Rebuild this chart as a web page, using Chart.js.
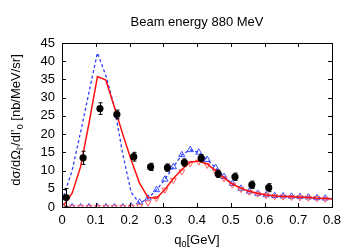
<!DOCTYPE html>
<html>
<head>
<meta charset="utf-8">
<script src="https://cdn.jsdelivr.net/npm/chart.js@4.4.0/dist/chart.umd.min.js"></script>
<style>
  html, body { margin: 0; padding: 0; background: #fff; }
</style>
</head>
<body>
<canvas id="chart" width="356" height="249"></canvas>
<script>
// q0 grid of the calculated curves [GeV]
const qGrid = [0.005, 0.03, 0.055, 0.08, 0.105, 0.13, 0.155, 0.18, 0.205, 0.23, 0.255, 0.28, 0.305, 0.33, 0.355, 0.38,
  0.405, 0.43, 0.455, 0.48, 0.505, 0.53, 0.555, 0.58, 0.605, 0.63, 0.655, 0.68, 0.705, 0.73, 0.755, 0.78];
const qLineEnd = 0.8;

// full calculations (lines)
const redLine = [0.5, 3.8, 11, 23, 35.8, 34.8, 27.5, 20, 12.9, 6.5, 2.6, 2.4, 4.8, 7.8, 10.3, 12.3,
  12.6, 11.8, 10, 8, 6.3, 5.1, 4.3, 3.7, 3.3, 3.0, 2.9, 2.8, 2.7, 2.6, 2.4, 2.3, 2.2];
const blueLine = [3, 10, 20.5, 31.5, 42.3, 36, 27.5, 14.5, 4, 1, 2.4, 4.7, 7.6, 11, 14.3, 15.7,
  15, 13, 10.8, 8.3, 6.4, 5.1, 4.3, 3.7, 3.3, 3.1, 3.0, 2.9, 2.8, 2.7, 2.5, 2.4, 2.3];

// Delta-region parts (open triangles)
const blueTri = [0, 0, 0, 0, 0, 0, 0, 0, 0.2, 1.3, 2.4, 4.7, 7.6, 11, 14.3, 15.7,
  15, 13, 10.8, 8.3, 6.4, 5.1, 4.3, 3.7, 3.3, 3.1, 3.0, 2.9, 2.8, 2.7, 2.5, 2.4];
const redTri = [0, 0, 0, 0, 0, 0, 0, 0, 0, 0.3, 1.2, 2.4, 4.7, 7.4, 9.7, 12,
  12.4, 11.5, 9.8, 7.8, 6.1, 4.9, 4.1, 3.6, 3.2, 2.9, 2.8, 2.7, 2.6, 2.5, 2.4, 2.2];

// measured points
const dataQ = [0.0125, 0.0625, 0.1125, 0.1625, 0.2125, 0.2625, 0.3125, 0.3625, 0.4125, 0.4625, 0.5125, 0.5625, 0.6125];
const dataY = [2.6, 13.5, 27.0, 25.4, 13.8, 11.0, 10.8, 12.2, 13.4, 9.1, 8.3, 6.1, 5.3];
const dataErr = [2.5, 1.8, 1.6, 1.2, 1.2, 1.0, 1.0, 1.0, 1.0, 1.0, 1.0, 1.0, 1.1];

const xMin = 0, xMax = 0.8, xStep = 0.1;
const yMin = 0, yMax = 45, yStep = 5;

const FONT = "'Liberation Sans', Arial, sans-serif";
Chart.defaults.font.family = FONT;
Chart.defaults.font.size = 13;
Chart.defaults.color = '#000';

const lineQ = qGrid.concat([qLineEnd]);
const pts = (xs, ys) => ys.map((y, i) => ({ x: xs[i], y: y }));

// text with subscripts, parts = [[text, isSub], ...]
function drawRich(ctx, parts, x, y) {
  const big = '13px ' + FONT, small = '9px ' + FONT;
  let w = 0;
  parts.forEach(p => { ctx.font = p[1] ? small : big; w += ctx.measureText(p[0]).width; });
  let cx = x - w / 2;
  ctx.textAlign = 'left';
  ctx.textBaseline = 'alphabetic';
  parts.forEach(p => {
    ctx.font = p[1] ? small : big;
    ctx.fillText(p[0], cx, p[1] ? y + 3 : y);
    cx += ctx.measureText(p[0]).width;
  });
}

const framePlugin = {
  id: 'frame',
  afterDatasetsDraw(chart) {
    const ctx = chart.ctx;
    const { left, right, top, bottom } = chart.chartArea;
    const xs = chart.scales.x, ys = chart.scales.y;
    ctx.save();
    // error bars
    ctx.strokeStyle = '#000';
    ctx.lineWidth = 1;
    dataQ.forEach((q, i) => {
      const px = Math.round(xs.getPixelForValue(q)) + 0.5;
      const y1 = ys.getPixelForValue(Math.max(dataY[i] - dataErr[i], 0));
      const y2 = ys.getPixelForValue(dataY[i] + dataErr[i]);
      ctx.beginPath();
      ctx.moveTo(px, y1); ctx.lineTo(px, y2);
      ctx.moveTo(px - 2, y1); ctx.lineTo(px + 2, y1);
      ctx.moveTo(px - 2, y2); ctx.lineTo(px + 2, y2);
      ctx.stroke();
    });
    // border + inward ticks on all sides
    ctx.strokeRect(Math.round(left) + 0.5, Math.round(top) + 0.5, Math.round(right - left), Math.round(bottom - top));
    ctx.beginPath();
    xs.ticks.forEach(t => {
      const px = Math.round(xs.getPixelForValue(t.value)) + 0.5;
      ctx.moveTo(px, bottom); ctx.lineTo(px, bottom - 4);
      ctx.moveTo(px, top); ctx.lineTo(px, top + 4);
    });
    ys.ticks.forEach(t => {
      const py = Math.round(ys.getPixelForValue(t.value)) + 0.5;
      ctx.moveTo(left, py); ctx.lineTo(left + 4, py);
      ctx.moveTo(right, py); ctx.lineTo(right - 4, py);
    });
    ctx.stroke();
    ctx.restore();
  },
  afterDraw(chart) {
    const ctx = chart.ctx;
    const { left, right, top, bottom } = chart.chartArea;
    ctx.save();
    ctx.fillStyle = '#000';
    ctx.font = '13px ' + FONT;
    ctx.textAlign = 'center';
    ctx.textBaseline = 'alphabetic';
    ctx.fillText('Beam energy 880 MeV', (left + right) / 2, 26);
    drawRich(ctx, [['q', false], ['0', true], ['[GeV]', false]], (left + right) / 2, 244);
    ctx.translate(20, (top + bottom) / 2 - 5);
    ctx.rotate(-Math.PI / 2);
    drawRich(ctx, [['d\u03c3/d\u03a9', false], ['l\u2019', true], ['/dl\u2019', false], ['0', true], [' [nb/MeV/sr]', false]], 0, 0);
    ctx.restore();
  }
};

new Chart(document.getElementById('chart'), {
  type: 'scatter',
  data: {
    datasets: [
      {
        label: 'data',
        data: pts(dataQ, dataY),
        pointStyle: 'circle',
        pointRadius: 3.6,
        backgroundColor: '#000',
        borderColor: '#000',
        borderWidth: 0,
        order: 0
      },
      {
        label: 'red triangles',
        data: pts(qGrid, redTri),
        pointStyle: 'triangle',
        rotation: 180,
        pointRadius: 3.4,
        backgroundColor: 'rgba(0,0,0,0)',
        borderColor: '#ff5a5a',
        borderWidth: 1,
        order: 3
      },
      {
        label: 'blue triangles',
        data: pts(qGrid, blueTri),
        pointStyle: 'triangle',
        pointRadius: 3.6,
        backgroundColor: 'rgba(0,0,0,0)',
        borderColor: '#3a4dff',
        borderWidth: 1,
        order: 4
      },
      {
        label: 'blue dashed',
        data: pts(lineQ, blueLine),
        showLine: true,
        pointRadius: 0,
        borderColor: '#2b3dff',
        borderWidth: 1.3,
        borderDash: [3, 2.5],
        order: 2
      },
      {
        label: 'red line',
        data: pts(lineQ, redLine),
        showLine: true,
        pointRadius: 0,
        borderColor: '#ff1010',
        borderWidth: 1.5,
        order: 1
      }
    ]
  },
  options: {
    responsive: false,
    animation: false,
    devicePixelRatio: 1,
    layout: { padding: { top: 43, right: 24, left: 0, bottom: 0 } },
    plugins: { legend: { display: false }, tooltip: { enabled: false } },
    scales: {
      x: {
        type: 'linear',
        min: xMin, max: xMax,
        grid: { display: false, drawTicks: false },
        border: { display: false },
        ticks: { stepSize: xStep, padding: 6, maxRotation: 0, autoSkip: false },
        afterFit: (s) => { s.height = 42; }
      },
      y: {
        type: 'linear',
        min: yMin, max: yMax,
        grid: { display: false, drawTicks: false },
        border: { display: false },
        ticks: { stepSize: yStep, padding: 7, autoSkip: false },
        afterFit: (s) => { s.width = 62; }
      }
    }
  },
  plugins: [framePlugin]
});
</script>
</body>
</html>
